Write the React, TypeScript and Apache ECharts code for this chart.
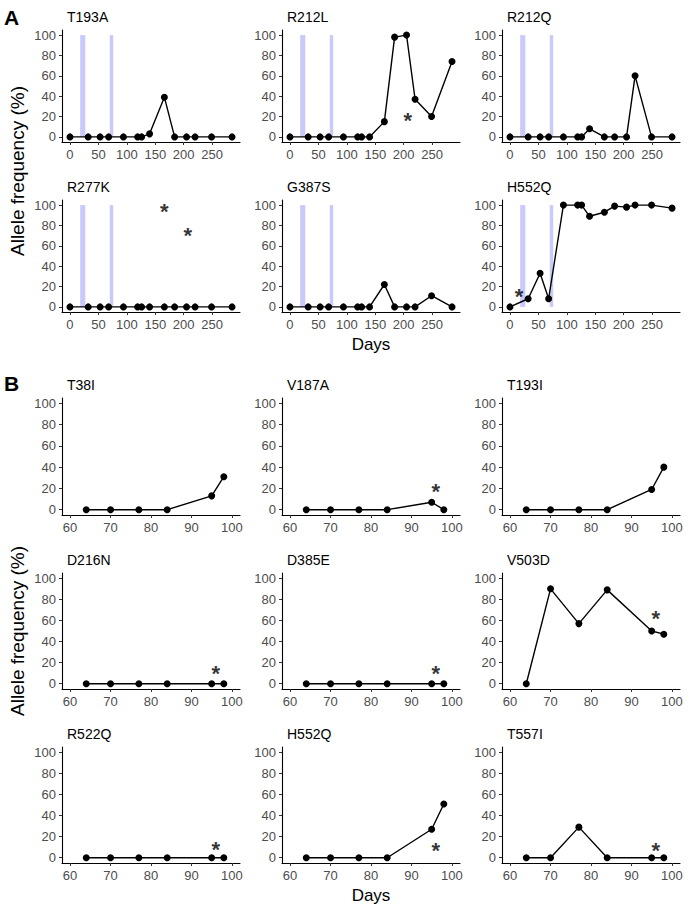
import React, { useEffect, useRef } from "react";
import * as echarts from "echarts";

const FONT = '"Liberation Sans", Arial, Helvetica, sans-serif';

// Panel A: sampling days and allele frequencies (%)
const DAYS_A = [0, 32, 53, 68, 94, 119, 126, 140, 166, 184, 205, 220, 249, 285];
const T193A = [0, 0, 0, 0, 0, 0, 0, 3, 39, 0, 0, 0, 0, 0];
const R212L = [0, 0, 0, 0, 0, 0, 0, 0, 15, 98, 100, 37, 20, 74];
const R212Q = [0, 0, 0, 0, 0, 0, 0, 8, 0, 0, 0, 60, 0, 0];
const R277K = [0, 0, 0, 0, 0, 0, 0, 0, 0, 0, 0, 0, 0, 0];
const G387S = [0, 0, 0, 0, 0, 0, 0, 0, 22, 0, 0, 0, 11, 0];
const H552Q_A = [0, 8, 33, 8, 100, 100, 100, 89, 93, 99, 98, 100, 100, 97];
const BANDS_A = [[18, 27], [70, 76]];
const X_TICKS_A = [0, 50, 100, 150, 200, 250];

// Panel B
const DAYS_B = [64, 70, 77, 84, 95, 98];
const T38I = [0, 0, 0, 0, 13, 31];
const V187A = [0, 0, 0, 0, 7, 0];
const T193I = [0, 0, 0, 0, 19, 40];
const D216N = [0, 0, 0, 0, 0, 0];
const D385E = [0, 0, 0, 0, 0, 0];
const V503D = [0, 90, 57, 89, 50, 47];
const R522Q = [0, 0, 0, 0, 0, 0];
const H552Q_B = [0, 0, 0, 0, 27, 51];
const T557I = [0, 0, 29, 0, 0, 0];
const X_TICKS_B = [60, 70, 80, 90, 100];

const Y_TICKS = [0, 20, 40, 60, 80, 100];

type Panel = { name: string; days: number[]; vals: number[]; stars: number[][]; group: "A" | "B" };

const PANELS: Panel[] = [
  { name: "T193A", days: DAYS_A, vals: T193A, stars: [], group: "A" },
  { name: "R212L", days: DAYS_A, vals: R212L, stars: [[207, 19]], group: "A" },
  { name: "R212Q", days: DAYS_A, vals: R212Q, stars: [], group: "A" },
  { name: "R277K", days: DAYS_A, vals: R277K, stars: [[166, 97], [207, 73]], group: "A" },
  { name: "G387S", days: DAYS_A, vals: G387S, stars: [], group: "A" },
  { name: "H552Q", days: DAYS_A, vals: H552Q_A, stars: [[16, 13]], group: "A" },
  { name: "T38I", days: DAYS_B, vals: T38I, stars: [], group: "B" },
  { name: "V187A", days: DAYS_B, vals: V187A, stars: [[96, 20]], group: "B" },
  { name: "T193I", days: DAYS_B, vals: T193I, stars: [], group: "B" },
  { name: "D216N", days: DAYS_B, vals: D216N, stars: [[96, 13]], group: "B" },
  { name: "D385E", days: DAYS_B, vals: D385E, stars: [[96, 13]], group: "B" },
  { name: "V503D", days: DAYS_B, vals: V503D, stars: [[96, 65]], group: "B" },
  { name: "R522Q", days: DAYS_B, vals: R522Q, stars: [[96, 11]], group: "B" },
  { name: "H552Q", days: DAYS_B, vals: H552Q_B, stars: [[96, 10]], group: "B" },
  { name: "T557I", days: DAYS_B, vals: T557I, stars: [[96, 10]], group: "B" },
];

const COL_LEFT = [62, 282, 502];
const PLOT_W = 178;
const ROWS_A = [{ top: 30, h: 112 }, { top: 200, h: 112 }];
const ROWS_B = [{ top: 398, h: 117 }, { top: 573, h: 116 }, { top: 747, h: 116 }];

function buildOption() {
  const grid: any[] = [];
  const xAxis: any[] = [];
  const yAxis: any[] = [];
  const series: any[] = [];
  const graphic: any[] = [];

  PANELS.forEach((p, i) => {
    const local = p.group === "A" ? i : i - 6;
    const row = Math.floor(local / 3);
    const col = local % 3;
    const r = p.group === "A" ? ROWS_A[row] : ROWS_B[row];
    const left = COL_LEFT[col];
    grid.push({ left, top: r.top, width: PLOT_W, height: r.h, containLabel: false });
    const xt = p.group === "A" ? X_TICKS_A : X_TICKS_B;
    xAxis.push({
      type: "value",
      gridIndex: i,
      min: p.group === "A" ? -14 : 58,
      max: p.group === "A" ? 299 : 102,
      axisLine: { show: true, onZero: false, lineStyle: { color: "#000", width: 1.1 } },
      axisTick: { show: true, length: 3, customValues: xt, lineStyle: { color: "#333", width: 1 } },
      axisLabel: { customValues: xt, color: "#4d4d4d", fontSize: 13, margin: 6, fontFamily: FONT },
      splitLine: { show: false },
    });
    yAxis.push({
      type: "value",
      gridIndex: i,
      min: -5,
      max: 105,
      axisLine: { show: true, onZero: false, lineStyle: { color: "#000", width: 1.1 } },
      axisTick: { show: true, length: 3, customValues: Y_TICKS, lineStyle: { color: "#333", width: 1 } },
      axisLabel: { customValues: Y_TICKS, color: "#4d4d4d", fontSize: 13, margin: 6, fontFamily: FONT },
      splitLine: { show: false },
    });
    series.push({
      type: "line",
      xAxisIndex: i,
      yAxisIndex: i,
      data: p.days.map((d, j) => [d, p.vals[j]]),
      symbol: "circle",
      symbolSize: 7,
      showSymbol: true,
      itemStyle: { color: "#000" },
      lineStyle: { color: "#000", width: 1.4 },
      z: 3,
      markArea:
        p.group === "A"
          ? {
              silent: true,
              itemStyle: { color: "#c9c9fb" },
              data: BANDS_A.map((b) => [
                { xAxis: b[0], yAxis: 0 },
                { xAxis: b[1], yAxis: 100 },
              ]),
            }
          : undefined,
    });
    if (p.stars.length) {
      series.push({
        type: "scatter",
        xAxisIndex: i,
        yAxisIndex: i,
        data: p.stars,
        symbolSize: 1,
        itemStyle: { color: "rgba(0,0,0,0)" },
        label: {
          show: true,
          position: "inside",
          formatter: "*",
          fontSize: 22,
          fontWeight: "bold",
          color: "#000",
          fontFamily: FONT,
          offset: [0, 3],
        },
        z: 4,
      });
    }
    graphic.push({
      type: "text",
      x: left + 5,
      y: r.top - 13,
      style: { text: p.name, font: `14px ${FONT}`, fill: "#000", align: "left", verticalAlign: "middle" },
    });
  });

  // panel letters
  graphic.push({ type: "text", x: 4, y: 17, style: { text: "A", font: `bold 21px ${FONT}`, fill: "#000", verticalAlign: "middle" } });
  graphic.push({ type: "text", x: 4, y: 383, style: { text: "B", font: `bold 21px ${FONT}`, fill: "#000", verticalAlign: "middle" } });
  // axis titles
  graphic.push({ type: "text", x: 371, y: 344, style: { text: "Days", font: `17px ${FONT}`, fill: "#000", align: "center", verticalAlign: "middle" } });
  graphic.push({ type: "text", x: 371, y: 895, style: { text: "Days", font: `17px ${FONT}`, fill: "#000", align: "center", verticalAlign: "middle" } });
  graphic.push({ type: "text", x: 17, y: 171, rotation: Math.PI / 2, style: { text: "Allele frequency (%)", font: `19px ${FONT}`, fill: "#000", align: "center", verticalAlign: "middle" } });
  graphic.push({ type: "text", x: 17, y: 631, rotation: Math.PI / 2, style: { text: "Allele frequency (%)", font: `19px ${FONT}`, fill: "#000", align: "center", verticalAlign: "middle" } });

  return { animation: false, backgroundColor: "#fff", grid, xAxis, yAxis, series, graphic };
}

export default function App() {
  const ref = useRef<HTMLDivElement>(null);
  useEffect(() => {
    if (!ref.current) return;
    const chart = echarts.init(ref.current, undefined, { renderer: "svg" });
    chart.setOption(buildOption() as any);
    return () => chart.dispose();
  }, []);
  return (
    <div
      ref={ref}
      style={{ position: "fixed", left: 0, top: 0, width: 692, height: 909, background: "#fff" }}
    />
  );
}
